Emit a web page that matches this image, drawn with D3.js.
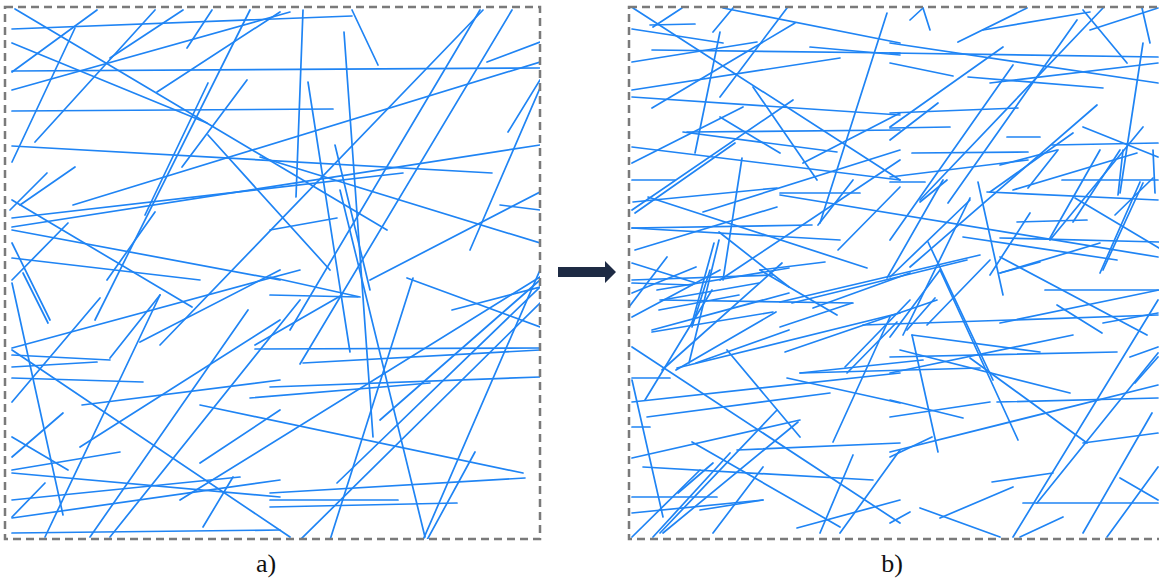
<!DOCTYPE html>
<html>
<head>
<meta charset="utf-8">
<script src="https://cdn.jsdelivr.net/npm/d3@7"></script>
<style>
  html, body { margin: 0; padding: 0; background: #fff; }
  svg { display: block; }
</style>
</head>
<body>
<svg id="chart" width="1159" height="580"></svg>
<script>
// Fibre segments in sample units (x to the right, y downward), [x1, y1, x2, y2]
const fibersA = [
  [7,22,347,9],[7,64,535,61],[7,104,328,102],[7,139,487,166],[10,2,382,223],
  [7,36,202,116],[7,65,92,3],[7,83,285,5],[7,155,70,21],[30,135,150,3],
  [105,51,178,3],[152,85,275,5],[182,41,207,3],[140,208,203,76],[90,313,245,3],
  [177,160,242,73],[203,128,325,263],[68,198,535,55],[7,211,398,166],[7,220,535,138],
  [7,193,187,300],[7,223,275,273],[7,251,195,273],[5,203,42,166],[15,198,70,160],
  [7,236,45,313],[7,273,63,216],[102,273,150,205],[155,338,478,3],[285,323,475,3],
  [295,357,507,3],[365,273,535,185],[298,3,291,190],[347,3,373,58],[339,25,368,430],
  [303,75,345,345],[330,138,365,283],[482,55,535,35],[503,125,535,73],[535,81,465,243],
  [255,150,535,236],[495,198,535,203],[265,223,332,211],
  [7,276,58,508],[18,266,43,316],[7,341,295,263],[7,348,105,353],[7,360,92,355],
  [7,371,138,375],[7,395,95,291],[7,343,285,530],[7,430,63,463],[7,466,275,490],
  [7,463,115,445],[7,493,235,470],[7,511,275,473],[7,526,275,523],[85,530,243,303],
  [40,530,155,288],[105,530,295,293],[135,335,275,263],[105,351,155,288],[75,440,275,313],
  [77,398,275,373],[58,406,7,450],[7,510,40,476],[195,456,275,403],[198,520,228,470],
  [250,338,337,288],[265,288,353,290],[335,183,420,530],[402,271,535,320],[447,303,535,280],
  [250,342,535,341],[298,356,535,343],[265,380,535,370],[245,391,425,376],[195,398,518,466],
  [175,493,535,270],[332,476,535,280],[265,486,520,471],[265,493,393,493],[265,500,452,496],
  [295,533,535,296],[418,533,535,263],[422,533,470,445],[325,533,408,271],[375,413,535,273],
  [265,270,355,290]
];

const fibersB = [
  [4,1,271,173],[3,22,94,36],[21,18,66,17],[24,20,53,1],[84,25,104,1],
  [91,25,66,146],[23,43,271,46],[3,55,128,35],[3,83,211,51],[3,90,271,108],
  [23,101,166,16],[91,90,158,1],[181,40,271,48],[94,1,271,36],[258,6,191,216],
  [3,140,271,173],[3,156,114,100],[58,125,271,123],[54,125,208,145],[3,203,164,93],
  [4,195,148,181],[3,173,46,173],[3,221,183,218],[3,221,211,233],[6,243,148,200],
  [19,190,238,261],[74,205,271,143],[113,151,94,273],[91,110,151,146],[124,80,188,173],
  [174,156,271,106],[131,263,196,255],[6,206,106,136],[91,273,271,153],
  [281,13,294,1],[294,1,301,23],[329,35,398,1],[354,23,461,5],[261,36,529,76],
  [261,46,529,50],[261,56,324,69],[339,70,474,81],[261,106,389,101],[261,121,321,120],
  [378,130,411,130],[283,146,399,145],[261,170,399,153],[261,175,296,175],[358,185,529,193],
  [388,215,458,213],[151,188,529,250],[334,230,488,253],[349,175,374,288],[299,235,364,373],
  [454,3,498,56],[513,1,521,36],[461,23,529,1],[261,120,374,40],[291,193,474,1],
  [319,196,448,13],[261,233,384,58],[281,260,468,98],[361,185,444,126],[421,233,514,120],
  [474,263,514,176],[514,36,491,186],[454,120,529,150],[423,138,529,136],[433,173,529,173],
  [361,76,529,56],[261,133,309,96],[261,270,341,193],
  [151,186,231,186],[189,218,224,173],[209,243,271,180],[151,295,351,248],[163,296,338,253],
  [151,320,223,296],[184,301,281,266],[258,271,314,173],[291,195,318,173],[274,328,341,191],
  [361,268,401,206],[371,266,411,255],[298,318,361,253],[171,366,294,353],[216,360,281,293],
  [218,366,268,315],[384,183,508,146],[371,158,428,143],[399,181,429,143],[446,191,530,241],
  [421,231,471,143],[444,215,491,143],[471,266,511,175],[486,208,524,171],[489,188,494,143],
  [524,143,526,186],[371,231,530,235],[371,266,471,236],[371,250,518,328],[371,316,530,283],
  [90,225,160,280],[90,233,60,356],[3,256,67,276],[3,276,63,278],[0,300,38,250],
  [3,286,67,260],[28,283,160,261],[33,293,130,276],[30,303,110,288],[23,323,160,286],
  [33,363,153,256],[47,363,147,305],[63,316,85,236],[67,356,160,323],
  [3,340,271,516],[3,373,34,510],[98,343,171,430],[23,325,144,305],[48,361,271,306],
  [156,345,308,293],[3,371,41,371],[171,366,351,361],[18,410,201,386],[3,395,271,366],
  [63,435,211,520],[3,420,21,420],[3,451,171,413],[14,460,244,473],[3,490,88,490],
  [3,506,134,493],[31,526,148,403],[34,526,169,415],[84,526,134,460],[168,521,271,493],
  [191,526,224,448],[204,435,261,310],[3,310,91,263],[63,320,81,263],[31,293,224,296],
  [131,263,208,308],[3,530,71,463],[24,530,101,446],[16,393,83,283],
  [3,273,144,268],[108,443,271,436],[158,371,271,396],[71,503,134,493],[49,486,84,456],
  [211,526,271,443],
  [311,263,389,433],[283,328,309,445],[283,328,411,345],[416,283,529,283],[428,298,473,326],
  [234,318,529,308],[271,343,441,386],[261,350,488,345],[261,366,444,328],
  [341,351,458,436],[261,393,334,411],[368,395,529,391],[261,445,529,378],[384,530,529,293],
  [408,496,529,346],[454,526,523,406],[491,471,529,493],[394,496,529,496],[363,475,424,466],
  [291,501,371,530],[311,511,384,480],[261,330,311,263],[478,530,529,460],
  [261,516,281,505],[391,530,434,510],[454,436,529,426],[261,410,361,395],[303,430,261,450],
  [474,316,529,306],[501,350,529,340],[506,376,529,350],[278,323,306,291]
];

const panelLabels = ["a)", "b)"];

const svg = d3.select("#chart");

// Sample window (same size for both states)
const sampleW = 535, sampleH = 532;

const panels = [
  { key: "A", left: 5,   top: 7, fibers: fibersA, label: panelLabels[0], labelX: 266 },
  { key: "B", left: 629, top: 7, fibers: fibersB, label: panelLabels[1], labelX: 892 }
];

panels.forEach(p => {
  const x = d3.scaleLinear().domain([0, sampleW]).range([p.left, p.left + sampleW]);
  const y = d3.scaleLinear().domain([0, sampleH]).range([p.top, p.top + sampleH]);

  svg.append("clipPath").attr("id", "clip" + p.key)
    .append("rect")
    .attr("x", x(0)).attr("y", y(0))
    .attr("width", x(sampleW) - x(0)).attr("height", y(sampleH) - y(0));

  const g = svg.append("g").attr("clip-path", `url(#clip${p.key})`);
  g.selectAll("line")
    .data(p.fibers)
    .join("line")
    .attr("x1", d => x(d[0])).attr("y1", d => y(d[1]))
    .attr("x2", d => x(d[2])).attr("y2", d => y(d[3]))
    .attr("stroke", "#1f84f4")
    .attr("stroke-width", 1.7)
    .attr("stroke-linecap", "round");

  // dashed sample boundary
  svg.append("rect")
    .attr("x", x(0)).attr("y", y(0))
    .attr("width", x(sampleW) - x(0)).attr("height", y(sampleH) - y(0))
    .attr("fill", "none")
    .attr("stroke", "#7a7a7a")
    .attr("stroke-width", 2.5)
    .attr("stroke-dasharray", "8,5");

  svg.append("text")
    .attr("x", p.labelX).attr("y", 572)
    .attr("text-anchor", "middle")
    .attr("font-family", "'Liberation Serif', 'Times New Roman', serif")
    .attr("font-size", 26)
    .attr("fill", "#111")
    .text(p.label);
});

// transition arrow between the two states
const arrow = d3.path();
arrow.moveTo(558, 267);
arrow.lineTo(605, 267);
arrow.lineTo(605, 261);
arrow.lineTo(616, 272);
arrow.lineTo(605, 283);
arrow.lineTo(605, 277);
arrow.lineTo(558, 277);
arrow.closePath();
svg.append("path").attr("d", arrow.toString()).attr("fill", "#1e2b44");
</script>
</body>
</html>
